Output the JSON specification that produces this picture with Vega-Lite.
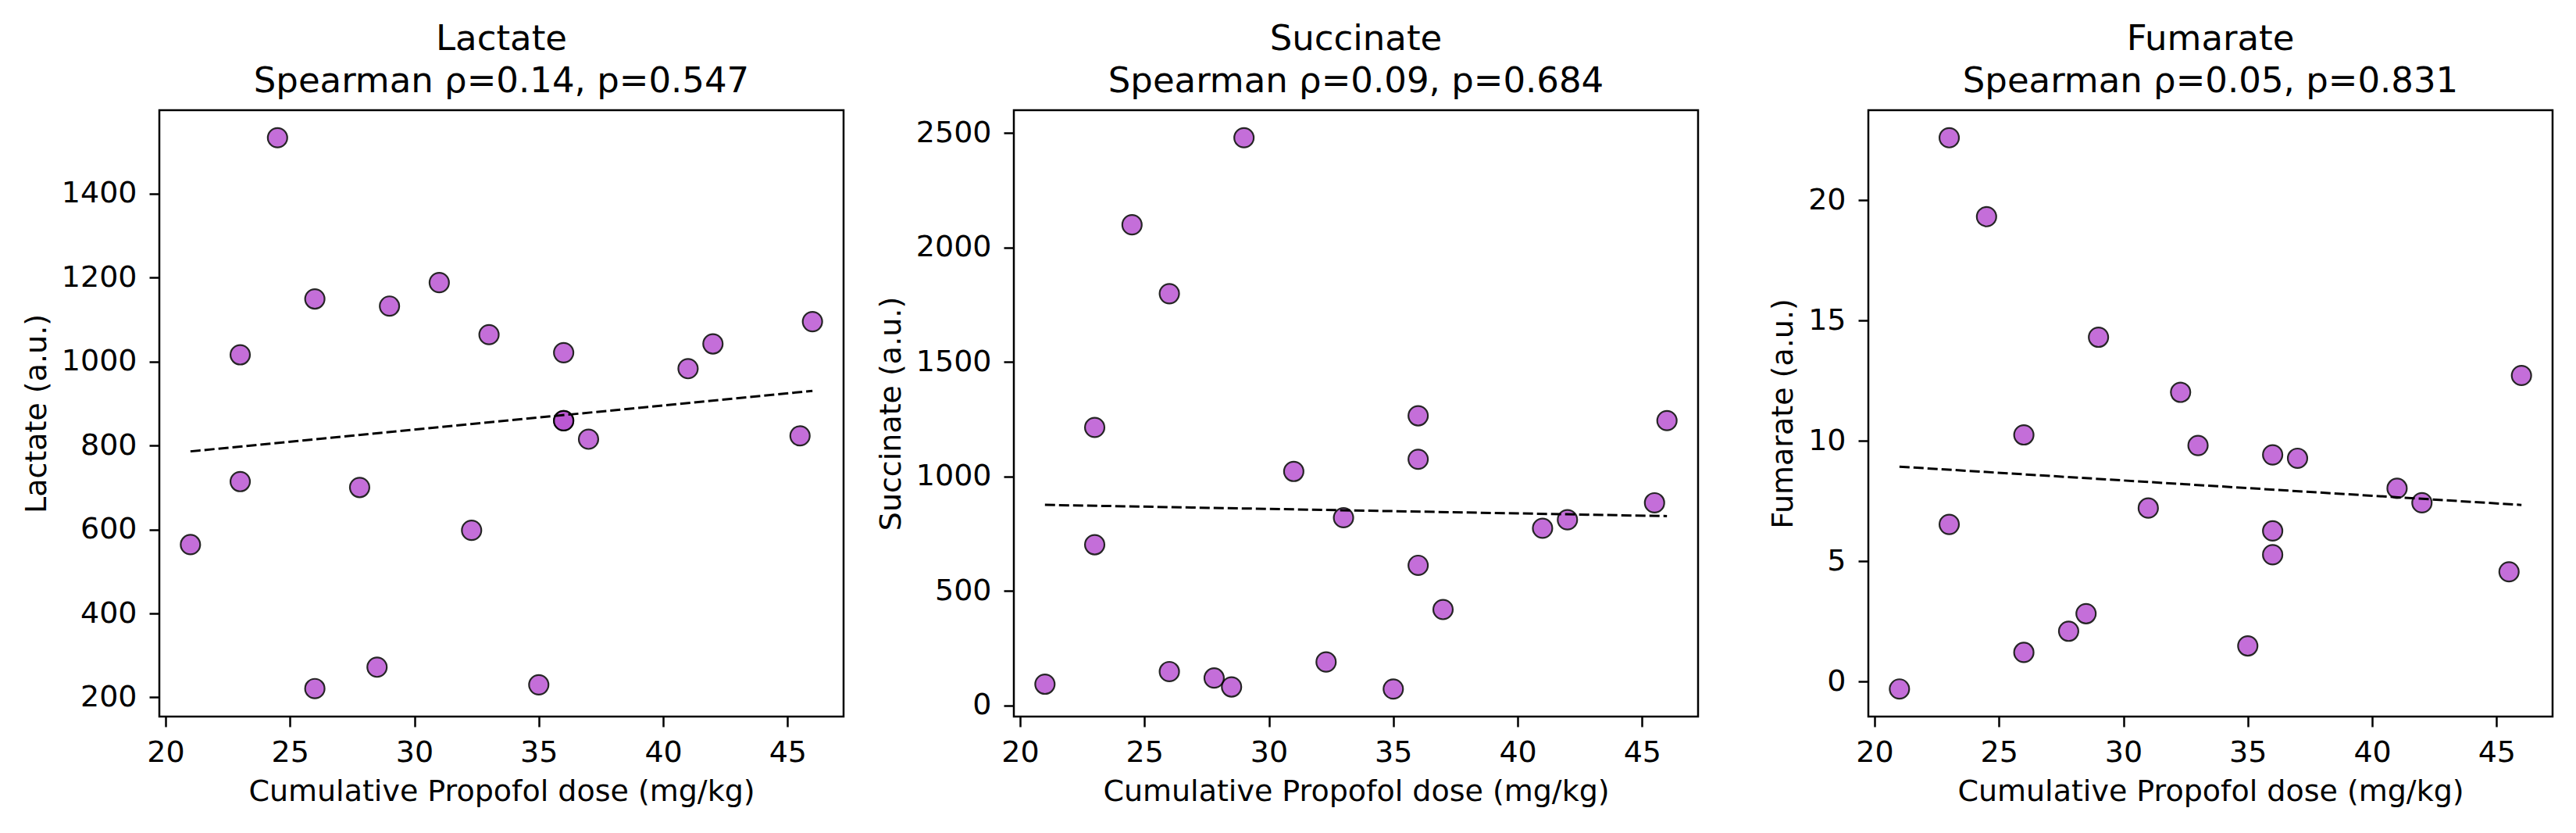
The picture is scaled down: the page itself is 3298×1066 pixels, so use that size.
{
  "$schema": "https://vega.github.io/schema/vega-lite/v6.json",
  "background": "#ffffff",
  "padding": {"left": 27, "top": 26, "right": 5, "bottom": 5},
  "bounds": "flush",
  "spacing": 218,
  "datasets": {
    "points": [
      {"metabolite": "Lactate", "dose": 21, "value": 564},
      {"metabolite": "Lactate", "dose": 23, "value": 1016},
      {"metabolite": "Lactate", "dose": 23, "value": 714},
      {"metabolite": "Lactate", "dose": 24.5, "value": 1533},
      {"metabolite": "Lactate", "dose": 26, "value": 1149},
      {"metabolite": "Lactate", "dose": 26, "value": 221},
      {"metabolite": "Lactate", "dose": 27.8, "value": 700},
      {"metabolite": "Lactate", "dose": 28.5, "value": 272},
      {"metabolite": "Lactate", "dose": 29, "value": 1132},
      {"metabolite": "Lactate", "dose": 31, "value": 1188},
      {"metabolite": "Lactate", "dose": 32.3, "value": 598},
      {"metabolite": "Lactate", "dose": 33, "value": 1064},
      {"metabolite": "Lactate", "dose": 35, "value": 230},
      {"metabolite": "Lactate", "dose": 36, "value": 1021},
      {"metabolite": "Lactate", "dose": 36, "value": 859},
      {"metabolite": "Lactate", "dose": 36, "value": 859},
      {"metabolite": "Lactate", "dose": 37, "value": 815},
      {"metabolite": "Lactate", "dose": 41, "value": 983},
      {"metabolite": "Lactate", "dose": 42, "value": 1042},
      {"metabolite": "Lactate", "dose": 45.5, "value": 823},
      {"metabolite": "Lactate", "dose": 46, "value": 1095},
      {"metabolite": "Succinate", "dose": 21, "value": 93},
      {"metabolite": "Succinate", "dose": 23, "value": 1214},
      {"metabolite": "Succinate", "dose": 23, "value": 702},
      {"metabolite": "Succinate", "dose": 24.5, "value": 2099},
      {"metabolite": "Succinate", "dose": 26, "value": 1798},
      {"metabolite": "Succinate", "dose": 26, "value": 148},
      {"metabolite": "Succinate", "dose": 27.8, "value": 120},
      {"metabolite": "Succinate", "dose": 28.5, "value": 81},
      {"metabolite": "Succinate", "dose": 29, "value": 2479},
      {"metabolite": "Succinate", "dose": 31, "value": 1022},
      {"metabolite": "Succinate", "dose": 32.3, "value": 190},
      {"metabolite": "Succinate", "dose": 33, "value": 820},
      {"metabolite": "Succinate", "dose": 35, "value": 72},
      {"metabolite": "Succinate", "dose": 36, "value": 1265},
      {"metabolite": "Succinate", "dose": 36, "value": 1075},
      {"metabolite": "Succinate", "dose": 36, "value": 612},
      {"metabolite": "Succinate", "dose": 37, "value": 419},
      {"metabolite": "Succinate", "dose": 41, "value": 774},
      {"metabolite": "Succinate", "dose": 42, "value": 811},
      {"metabolite": "Succinate", "dose": 45.5, "value": 885},
      {"metabolite": "Succinate", "dose": 46, "value": 1244},
      {"metabolite": "Fumarate", "dose": 21, "value": -0.31},
      {"metabolite": "Fumarate", "dose": 23, "value": 22.6},
      {"metabolite": "Fumarate", "dose": 23, "value": 6.53},
      {"metabolite": "Fumarate", "dose": 24.5, "value": 19.32},
      {"metabolite": "Fumarate", "dose": 26, "value": 10.25},
      {"metabolite": "Fumarate", "dose": 26, "value": 1.21},
      {"metabolite": "Fumarate", "dose": 27.8, "value": 2.09},
      {"metabolite": "Fumarate", "dose": 28.5, "value": 2.82},
      {"metabolite": "Fumarate", "dose": 29, "value": 14.31},
      {"metabolite": "Fumarate", "dose": 31, "value": 7.21},
      {"metabolite": "Fumarate", "dose": 32.3, "value": 12.02},
      {"metabolite": "Fumarate", "dose": 33, "value": 9.81},
      {"metabolite": "Fumarate", "dose": 35, "value": 1.48},
      {"metabolite": "Fumarate", "dose": 36, "value": 9.42},
      {"metabolite": "Fumarate", "dose": 36, "value": 6.26},
      {"metabolite": "Fumarate", "dose": 36, "value": 5.27},
      {"metabolite": "Fumarate", "dose": 37, "value": 9.28},
      {"metabolite": "Fumarate", "dose": 41, "value": 8.03},
      {"metabolite": "Fumarate", "dose": 42, "value": 7.43},
      {"metabolite": "Fumarate", "dose": 45.5, "value": 4.56},
      {"metabolite": "Fumarate", "dose": 46, "value": 12.72}
    ],
    "fits": [
      {"metabolite": "Lactate", "dose": 21, "value": 786},
      {"metabolite": "Lactate", "dose": 46, "value": 930},
      {"metabolite": "Succinate", "dose": 21, "value": 876},
      {"metabolite": "Succinate", "dose": 46, "value": 827},
      {"metabolite": "Fumarate", "dose": 21, "value": 8.93},
      {"metabolite": "Fumarate", "dose": 46, "value": 7.34}
    ]
  },
  "hconcat": [
    {
      "title": {"text": ["Lactate", "Spearman ρ=0.14, p=0.547"]},
      "width": 876,
      "height": 776,
      "encoding": {
        "x": {"field": "dose", "type": "quantitative",
          "scale": {"domain": [19.75, 47.25], "nice": false, "zero": false},
          "axis": {"title": "Cumulative Propofol dose (mg/kg)", "values": [20, 25, 30, 35, 40, 45]}},
        "y": {"field": "value", "type": "quantitative",
          "scale": {"domain": [154.35, 1598.65], "nice": false, "zero": false},
          "axis": {"title": "Lactate (a.u.)", "format": "d", "values": [200, 400, 600, 800, 1000, 1200, 1400]}}
      },
      "layer": [
        {"data": {"name": "points"}, "transform": [{"filter": "datum.metabolite === 'Lactate'"}],
          "mark": {"type": "circle", "size": 620, "fill": "#BA55D3", "stroke": "black", "strokeWidth": 2.2, "opacity": 0.85}},
        {"data": {"name": "fits"}, "transform": [{"filter": "datum.metabolite === 'Lactate'"}],
          "mark": {"type": "line", "color": "black", "strokeWidth": 3, "strokeDash": [13, 5]}}
      ]
    },
    {
      "title": {"text": ["Succinate", "Spearman ρ=0.09, p=0.684"]},
      "width": 876,
      "height": 776,
      "encoding": {
        "x": {"field": "dose", "type": "quantitative",
          "scale": {"domain": [19.75, 47.25], "nice": false, "zero": false},
          "axis": {"title": "Cumulative Propofol dose (mg/kg)", "values": [20, 25, 30, 35, 40, 45]}},
        "y": {"field": "value", "type": "quantitative",
          "scale": {"domain": [-48.35, 2599.35], "nice": false, "zero": false},
          "axis": {"title": "Succinate (a.u.)", "format": "d", "values": [0, 500, 1000, 1500, 2000, 2500]}}
      },
      "layer": [
        {"data": {"name": "points"}, "transform": [{"filter": "datum.metabolite === 'Succinate'"}],
          "mark": {"type": "circle", "size": 620, "fill": "#BA55D3", "stroke": "black", "strokeWidth": 2.2, "opacity": 0.85}},
        {"data": {"name": "fits"}, "transform": [{"filter": "datum.metabolite === 'Succinate'"}],
          "mark": {"type": "line", "color": "black", "strokeWidth": 3, "strokeDash": [13, 5]}}
      ]
    },
    {
      "title": {"text": ["Fumarate", "Spearman ρ=0.05, p=0.831"]},
      "width": 876,
      "height": 776,
      "encoding": {
        "x": {"field": "dose", "type": "quantitative",
          "scale": {"domain": [19.75, 47.25], "nice": false, "zero": false},
          "axis": {"title": "Cumulative Propofol dose (mg/kg)", "values": [20, 25, 30, 35, 40, 45]}},
        "y": {"field": "value", "type": "quantitative",
          "scale": {"domain": [-1.456, 23.746], "nice": false, "zero": false},
          "axis": {"title": "Fumarate (a.u.)", "format": "d", "values": [0, 5, 10, 15, 20]}}
      },
      "layer": [
        {"data": {"name": "points"}, "transform": [{"filter": "datum.metabolite === 'Fumarate'"}],
          "mark": {"type": "circle", "size": 620, "fill": "#BA55D3", "stroke": "black", "strokeWidth": 2.2, "opacity": 0.85}},
        {"data": {"name": "fits"}, "transform": [{"filter": "datum.metabolite === 'Fumarate'"}],
          "mark": {"type": "line", "color": "black", "strokeWidth": 3, "strokeDash": [13, 5]}}
      ]
    }
  ],
  "config": {
    "font": "DejaVu Sans",
    "view": {"stroke": "black", "strokeWidth": 2.5, "fill": "#ffffff"},
    "title": {"fontSize": 45, "fontWeight": "normal", "color": "black", "anchor": "middle", "lineHeight": 54, "offset": 14, "font": "DejaVu Sans"},
    "axis": {
      "grid": false,
      "domain": false,
      "labelFont": "DejaVu Sans",
      "titleFont": "DejaVu Sans",
      "labelFontSize": 38,
      "titleFontSize": 38,
      "titleFontWeight": "normal",
      "labelColor": "black",
      "titleColor": "black",
      "tickColor": "black",
      "tickSize": 13,
      "tickWidth": 2.5,
      "labelFlush": false,
      "labelOverlap": false
    },
    "axisX": {"labelPadding": 14, "titlePadding": 12},
    "axisY": {"labelPadding": 16, "titlePadding": 12}
  }
}
